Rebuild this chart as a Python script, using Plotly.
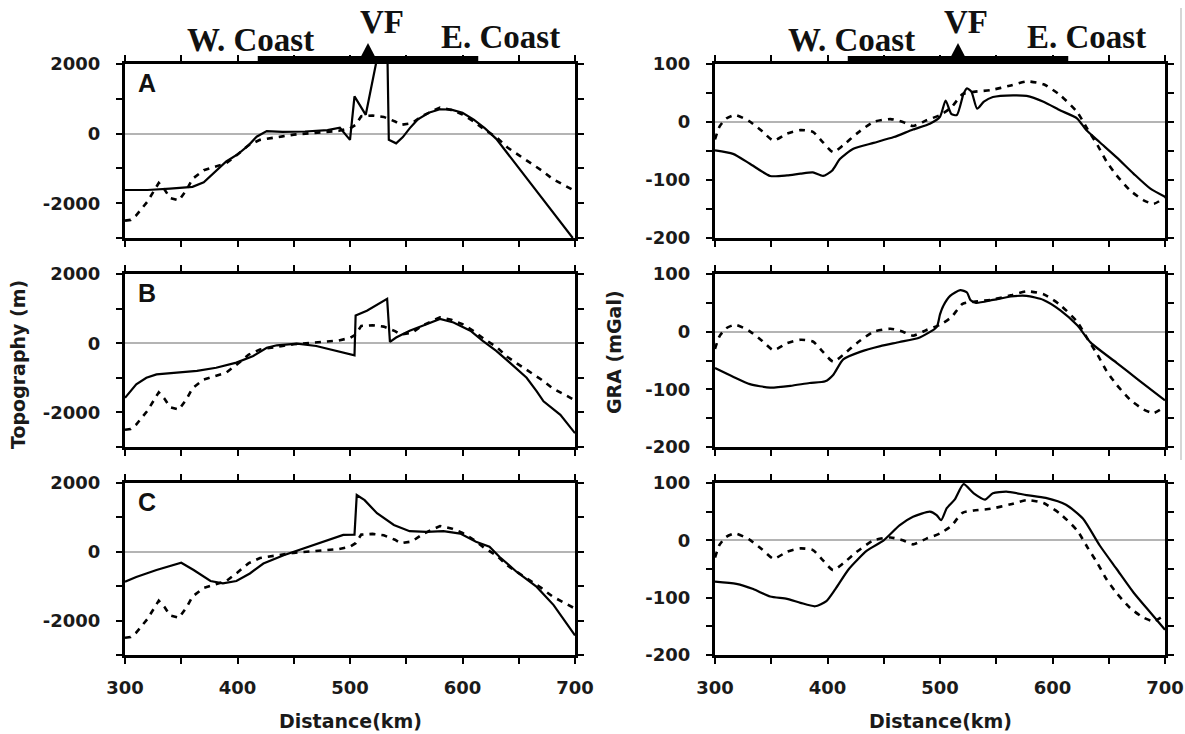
import plotly.graph_objects as go

W, H = 1185, 734

# ---------------- data ----------------
DIST_TICKS = [300, 350, 400, 450, 500, 550, 600, 650, 700]
DIST_LABELS = ["300", "", "400", "", "500", "", "600", "", "700"]
TOPO_TICKS = [-3000, -2000, -1000, 0, 1000, 2000]
TOPO_LABELS = ["", "-2000", "", "0", "", "2000"]
GRA_TICKS = [-200, -150, -100, -50, 0, 50, 100]
GRA_LABELS = ["-200", "", "-100", "", "0", "", "100"]
PANEL_NAMES = ["A", "B", "C"]

COAST_KM = [418, 614]      # coastal segment marked above the top panels
VF_KM = 516                # volcanic front

# observed topography (dashed, same in A, B, C)
TOPO_OBS_X = [300, 305, 310, 320, 330, 335, 340, 348, 355, 360, 370, 380, 390, 400, 410, 420, 430, 440, 450,
              460, 470, 480, 490, 500, 505, 510, 520, 530, 540, 545, 555, 565, 580, 590, 600, 610, 620, 630,
              640, 650, 660, 670, 680, 690, 700]
TOPO_OBS_Y = [-2500, -2480, -2350, -1950, -1420, -1600, -1850, -1920, -1600, -1300, -1050, -950, -850, -600,
              -330, -180, -120, -80, -30, 0, 30, 50, 80, 150, 250, 500, 520, 480, 350, 250, 300, 520, 750, 680,
              550, 350, 100, -100, -400, -620, -830, -1050, -1300, -1480, -1650]

# model topography (solid)
TOPO_A_X = [300, 320, 340, 350, 360, 370, 380, 390, 400, 410, 417, 426, 440, 460, 480, 491, 500, 504, 514, 524,
            528, 533, 534.5, 541, 547, 553, 560, 570, 580, 590, 600, 610, 620, 630, 640, 650, 660, 670, 680,
            690, 698]
TOPO_A_Y = [-1620, -1620, -1580, -1560, -1530, -1400, -1100, -800, -600, -330, -90, 70, 50, 60, 100, 170, -180,
            1070, 540, 2000, 2800, 2800, -180, -280, -100, 150, 400, 600, 700, 690, 600, 400, 150, -150, -570,
            -990, -1410, -1830, -2250, -2660, -3000]

TOPO_B_X = [300, 310, 319, 328, 346, 364, 381, 399, 414, 426, 435, 453, 470, 488, 504, 505, 515, 533, 535.5,
            541, 553, 568, 580, 592, 607, 618, 630, 642, 657, 666, 672, 687, 700]
TOPO_B_Y = [-1580, -1190, -1000, -900, -850, -800, -710, -560, -370, -130, -60, -10, -80, -220, -350, 800, 940,
            1280, 40, 165, 360, 550, 700, 600, 360, 70, -220, -560, -1000, -1390, -1680, -2070, -2600]

TOPO_C_X = [300, 310, 328, 350, 361, 376, 387, 399, 411, 423, 441, 459, 476, 494, 504, 506, 513, 524, 539, 553,
            568, 583, 598, 612, 624, 633, 648, 666, 681, 700]
TOPO_C_Y = [-870, -730, -530, -320, -530, -850, -920, -850, -630, -340, -100, 100, 290, 490, 500, 1650, 1500,
            1120, 780, 600, 580, 600, 530, 290, 150, -150, -580, -1020, -1550, -2430]

# observed gravity anomaly (dashed, same in A, B, C)
GRA_OBS_X = [300, 304, 310, 318, 330, 342, 352, 364, 376, 387, 396, 405, 414, 426, 441, 456, 467, 476, 488,
             500, 510, 520, 530, 545, 563, 577, 592, 607, 622, 631, 640, 648, 657, 669, 681, 690, 700]
GRA_OBS_Y = [-30, -8, 6, 12, 2, -16, -32, -20, -14, -17, -35, -52, -40, -20, 0, 5, 0, -7, 3, 12, 25, 48, 52,
             55, 63, 70, 65, 46, 17, -12, -40, -68, -92, -118, -135, -141, -130]

# model gravity anomaly (solid)
GRA_A_X = [300, 316, 331, 349, 364, 376, 387, 396, 404, 411, 423, 441, 459, 476, 491, 500, 505, 510, 515, 521,
           524, 528, 533, 539, 547, 565, 577, 592, 607, 622, 630, 642, 657, 672, 687, 700]
GRA_A_Y = [-49, -55, -72, -93, -92, -89, -87, -93, -84, -64, -46, -36, -26, -13, -3, 9, 37, 14, 12, 49, 58, 52,
           23, 35, 43, 46, 45, 35, 20, 6, -14, -35, -61, -89, -115, -129]

GRA_B_X = [300, 316, 331, 349, 367, 384, 398, 405, 414, 429, 447, 464, 482, 497, 500, 503, 509, 518, 524, 527,
           532, 547, 563, 577, 592, 607, 622, 634, 657, 676, 700]
GRA_B_Y = [-63, -78, -91, -97, -94, -89, -86, -75, -48, -35, -25, -18, -10, 8, 30, 45, 62, 72, 68, 55, 50, 55,
           61, 62, 55, 37, 11, -19, -54, -83, -119]

GRA_C_X = [300, 319, 334, 349, 364, 376, 389, 399, 407, 419, 435, 450, 464, 476, 491, 497, 501, 506, 513, 521,
           530, 540, 547, 559, 577, 594, 612, 627, 642, 657, 672, 687, 700]
GRA_C_Y = [-72, -76, -85, -98, -102, -109, -115, -106, -85, -50, -18, 0, 26, 41, 50, 44, 35, 56, 71, 98, 82, 71,
           82, 85, 79, 74, 62, 38, -9, -50, -91, -126, -156]

TOPO_MODELS = [(TOPO_A_X, TOPO_A_Y), (TOPO_B_X, TOPO_B_Y), (TOPO_C_X, TOPO_C_Y)]
GRA_MODELS = [(GRA_A_X, GRA_A_Y), (GRA_B_X, GRA_B_Y), (GRA_C_X, GRA_C_Y)]

# ---------------- layout helpers ----------------
def px(x):
    return x / W

def py(y):
    return 1 - y / H

COL_PX = [(125, 575), (715, 1165)]
ROW_PX = [(64, 238), (274, 447), (483, 655)]

TICK_FONT = dict(family="DejaVu Sans", size=18, color="#1a1a1a", weight="bold")

fig = go.Figure()
layout = dict(width=W, height=H, margin=dict(l=0, r=0, t=0, b=0),
              plot_bgcolor="white", paper_bgcolor="white", showlegend=False)

for r in range(3):
    for c in range(2):
        idx = r * 2 + c + 1
        xn = "x" if idx == 1 else f"x{idx}"
        yn = "y" if idx == 1 else f"y{idx}"
        xa = dict(domain=[px(COL_PX[c][0]), px(COL_PX[c][1])], anchor=yn, range=[300, 700],
                  tickmode="array", tickvals=DIST_TICKS, ticktext=DIST_LABELS,
                  showticklabels=(r == 2), tickfont=TICK_FONT, ticklabelstandoff=8,
                  showline=True, linecolor="black", linewidth=3, mirror="allticks",
                  ticks="outside", ticklen=6, tickwidth=1.5, tickcolor="black",
                  showgrid=False, zeroline=False, automargin=False, fixedrange=True)
        if c == 0:
            yr, tv, tt = [-3000, 2000], TOPO_TICKS, TOPO_LABELS
        else:
            yr, tv, tt = [-200, 100], GRA_TICKS, GRA_LABELS
        ya = dict(domain=[py(ROW_PX[r][1]), py(ROW_PX[r][0])], anchor=xn, range=yr,
                  tickmode="array", tickvals=tv, ticktext=tt, tickfont=TICK_FONT,
                  ticklabelstandoff=12,
                  showline=True, linecolor="black", linewidth=3, mirror="allticks",
                  ticks="outside", ticklen=6, tickwidth=1.5, tickcolor="black",
                  showgrid=False, zeroline=True, zerolinecolor="#b4b4b4", zerolinewidth=2,
                  automargin=False, fixedrange=True)
        layout["xaxis" if idx == 1 else f"xaxis{idx}"] = xa
        layout["yaxis" if idx == 1 else f"yaxis{idx}"] = ya

        if c == 0:
            ox, oy = TOPO_OBS_X, TOPO_OBS_Y
            mx, my = TOPO_MODELS[r]
            shape_kw = dict(shape="linear")
        else:
            ox, oy = GRA_OBS_X, GRA_OBS_Y
            mx, my = GRA_MODELS[r]
            shape_kw = dict(shape="spline", smoothing=0.6)
        fig.add_trace(go.Scatter(x=ox, y=oy, mode="lines", xaxis=xn, yaxis=yn,
                                 line=dict(color="black", width=2.6, dash="6px,6px", **shape_kw)))
        fig.add_trace(go.Scatter(x=mx, y=my, mode="lines", xaxis=xn, yaxis=yn,
                                 line=dict(color="black", width=2.2, **shape_kw)))

fig.update_layout(**layout)

shapes = []
annotations = []

# coast bar + volcanic front triangle above the top panels
for xref in ["x", "x2"]:
    shapes.append(dict(type="rect", xref=xref, yref="paper", x0=COAST_KM[0], x1=COAST_KM[1],
                       y0=py(64), y1=py(56), fillcolor="black", line=dict(width=0), layer="above"))
    shapes.append(dict(type="path", xref=xref, yref="paper",
                       path=f"M {VF_KM - 6.5},{py(57)} L {VF_KM + 6.5},{py(57)} L {VF_KM},{py(43)} Z",
                       fillcolor="black", line=dict(width=0), layer="above"))

HEAD_FONT = dict(family="Liberation Serif", size=33, color="#111", weight="bold")
for (wx, vx, ex) in [(250, 382, 500), (852, 966, 1086)]:
    annotations.append(dict(text="W. Coast", x=px(wx), y=py(40), xref="paper", yref="paper",
                            xanchor="center", yanchor="middle", showarrow=False, font=HEAD_FONT))
    annotations.append(dict(text="VF", x=px(vx), y=py(22), xref="paper", yref="paper",
                            xanchor="center", yanchor="middle", showarrow=False, font=HEAD_FONT))
    annotations.append(dict(text="E. Coast", x=px(ex), y=py(37), xref="paper", yref="paper",
                            xanchor="center", yanchor="middle", showarrow=False, font=HEAD_FONT))

# panel letters
for r, name in enumerate(PANEL_NAMES):
    annotations.append(dict(text=name, x=px(136), y=py(ROW_PX[r][0] + 19), xref="paper", yref="paper",
                            xanchor="left", yanchor="middle", showarrow=False,
                            font=dict(family="Liberation Sans", size=25, color="#111", weight="bold")))

TITLE_FONT = dict(family="DejaVu Sans", size=19, color="#1a1a1a", weight="bold")
for cx in [350, 940]:
    annotations.append(dict(text="Distance(km)", x=px(cx), y=py(721), xref="paper", yref="paper",
                            xanchor="center", yanchor="middle", showarrow=False, font=TITLE_FONT))
annotations.append(dict(text="Topography (m)", x=px(18), y=py(365), xref="paper", yref="paper",
                        xanchor="center", yanchor="middle", textangle=-90, showarrow=False,
                        font=TITLE_FONT))
annotations.append(dict(text="GRA (mGal)", x=px(614), y=py(352), xref="paper", yref="paper",
                        xanchor="center", yanchor="middle", textangle=-90, showarrow=False,
                        font=TITLE_FONT))

# faint scan edge line at the right border
shapes.append(dict(type="line", xref="paper", yref="paper", x0=px(1181), x1=px(1181), y0=py(460), y1=py(8),
                   line=dict(color="#c8c8c8", width=1.5)))

fig.update_layout(shapes=shapes, annotations=annotations)
fig.write_html("out.html")
